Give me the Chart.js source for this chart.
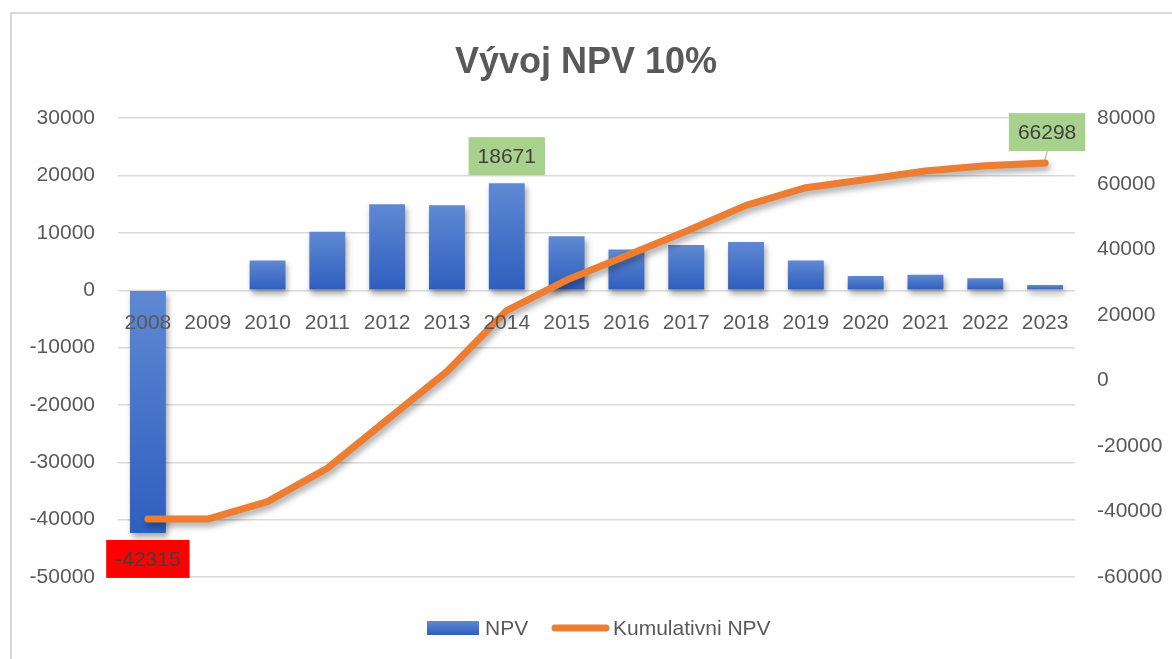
<!DOCTYPE html>
<html>
<head>
<meta charset="utf-8">
<script src="https://cdn.jsdelivr.net/npm/chart.js@4.4.1/dist/chart.umd.min.js"></script>
<style>
  html, body { margin: 0; padding: 0; background: #fff; }
  canvas { display: block; }
</style>
</head>
<body>
<canvas id="npvChart" width="1172" height="659"></canvas>
<script>
const years = ['2008', '2009', '2010', '2011', '2012', '2013', '2014', '2015',
               '2016', '2017', '2018', '2019', '2020', '2021', '2022', '2023'];
const npv = [-42315, 0, 5200, 10200, 15000, 14800, 18671, 9400,
             7100, 7900, 8400, 5200, 2500, 2700, 2100, 900];
const cumulativeNpv = [-42315, -42315, -37000, -26800, -12000, 2700, 21300, 30600,
                       38000, 45500, 53400, 58800, 61300, 63900, 65500, 66298];
const leftTicks = { min: -50000, max: 30000, step: 10000 };
const rightTicks = { min: -60000, max: 80000, step: 20000 };

const FONT = "'Liberation Sans', Arial, sans-serif";
const TEXT = '#595959';
const GRID = '#d9d9d9';

// excel-like gradient per bar, top light to bottom dark
function barGradient(ctx) {
  const chart = ctx.chart;
  if (!chart.chartArea || ctx.type !== 'data' || !ctx.parsed) return '#4472c4';
  const y = chart.scales.y;
  const v = ctx.parsed.y;
  const top = y.getPixelForValue(Math.max(v, 0));
  const bot = y.getPixelForValue(Math.min(v, 0));
  if (bot - top < 1) return '#4472c4';
  const g = chart.ctx.createLinearGradient(0, top, 0, bot);
  g.addColorStop(0, '#5f89d3');
  g.addColorStop(1, '#2e5ebf');
  return g;
}

const plainNumber = (v) => String(v);

const frame = {
  id: 'frame',
  beforeDraw(chart) {
    const c = chart.ctx;
    c.save();
    c.fillStyle = '#fff';
    c.fillRect(0, 0, chart.width, chart.height);
    c.strokeStyle = GRID;
    c.lineWidth = 2;
    c.beginPath();
    c.moveTo(11, chart.height);
    c.lineTo(11, 13);
    c.lineTo(chart.width, 13);
    c.stroke();
    c.restore();
  }
};

const shadows = {
  id: 'shadows',
  beforeDatasetDraw(chart) {
    const c = chart.ctx;
    c.save();
    c.shadowColor = 'rgba(0,0,0,0.35)';
    c.shadowBlur = 6;
    c.shadowOffsetX = 2;
    c.shadowOffsetY = 4;
  },
  afterDatasetDraw(chart) {
    chart.ctx.restore();
  }
};

function labelBox(c, text, cx, top, bg) {
  c.font = '21px ' + FONT;
  const w = c.measureText(text).width + 18;
  const h = 38;
  c.fillStyle = bg;
  c.fillRect(cx - w / 2, top, w, h);
  c.fillStyle = '#404040';
  c.textAlign = 'center';
  c.textBaseline = 'middle';
  c.fillText(text, cx, top + h / 2 + 1);
}

const valueLabels = {
  id: 'valueLabels',
  afterDraw(chart) {
    const c = chart.ctx;
    const bars = chart.getDatasetMeta(1).data;
    const line = chart.getDatasetMeta(0).data;
    const iMin = npv.indexOf(Math.min(...npv));
    const iMax = npv.indexOf(Math.max(...npv));
    const iLast = cumulativeNpv.length - 1;
    c.save();
    labelBox(c, String(npv[iMin]), bars[iMin].x, bars[iMin].y + 7, '#ff0000');
    labelBox(c, String(npv[iMax]), bars[iMax].x, bars[iMax].y - 8 - 38, '#a9d18e');
    const p = line[iLast];
    const boxBottom = p.y - 12;
    c.strokeStyle = '#a6a6a6';
    c.lineWidth = 1;
    c.beginPath();
    c.moveTo(p.x + 2, boxBottom);
    c.lineTo(p.x, p.y - 3);
    c.stroke();
    labelBox(c, String(cumulativeNpv[iLast]), p.x + 2, boxBottom - 38, '#a9d18e');
    c.restore();
  }
};

const legendDraw = {
  id: 'legendDraw',
  afterDraw(chart) {
    const c = chart.ctx;
    const ds = chart.data.datasets;
    const y = 628;
    c.save();
    c.font = '21px ' + FONT;
    c.textBaseline = 'middle';
    c.textAlign = 'left';
    const g = c.createLinearGradient(0, y - 7, 0, y + 7);
    g.addColorStop(0, '#5f89d3');
    g.addColorStop(1, '#2e5ebf');
    c.fillStyle = g;
    c.fillRect(427, y - 7, 52, 14);
    c.fillStyle = TEXT;
    c.fillText(ds[1].label, 485, y + 1);
    c.strokeStyle = ds[0].borderColor;
    c.lineWidth = 7;
    c.lineCap = 'round';
    c.beginPath();
    c.moveTo(555, y);
    c.lineTo(606, y);
    c.stroke();
    c.fillStyle = TEXT;
    c.fillText(ds[0].label, 613, y + 1);
    c.restore();
  }
};

new Chart(document.getElementById('npvChart'), {
  data: {
    labels: years,
    datasets: [
      {
        type: 'line',
        label: 'Kumulativni NPV',
        data: cumulativeNpv,
        yAxisID: 'y1',
        borderColor: '#ed7d31',
        borderWidth: 7,
        borderCapStyle: 'round',
        borderJoinStyle: 'round',
        pointRadius: 0,
        tension: 0,
        order: 1
      },
      {
        type: 'bar',
        label: 'NPV',
        data: npv,
        yAxisID: 'y',
        backgroundColor: barGradient,
        barPercentage: 1,
        categoryPercentage: 0.6,
        order: 2
      }
    ]
  },
  options: {
    responsive: false,
    animation: false,
    layout: { padding: { top: 0, left: 0, right: 0, bottom: 82 } },
    plugins: {
      legend: { display: false },
      tooltip: { enabled: false },
      title: {
        display: true,
        text: 'Vývoj NPV 10%',
        color: TEXT,
        font: { family: FONT, size: 36, weight: 'bold' },
        padding: { top: 41, bottom: 34 }
      }
    },
    scales: {
      x: {
        position: { y: 0 },
        z: 1,
        grid: { display: false, drawTicks: false },
        border: { display: false },
        ticks: { z: 1, color: TEXT, font: { family: FONT, size: 21 }, padding: 20, maxRotation: 0 }
      },
      y: {
        position: 'left',
        min: leftTicks.min,
        max: leftTicks.max,
        grid: { color: GRID, lineWidth: 1.5, drawTicks: false },
        border: { display: false },
        ticks: { stepSize: leftTicks.step, color: TEXT, font: { family: FONT, size: 21 }, padding: 23, callback: plainNumber },
        afterFit(scale) { scale.width = 118; }
      },
      y1: {
        position: 'right',
        min: rightTicks.min,
        max: rightTicks.max,
        grid: { display: false, drawTicks: false },
        border: { display: false },
        ticks: { stepSize: rightTicks.step, color: TEXT, font: { family: FONT, size: 21 }, padding: 22, callback: plainNumber },
        afterFit(scale) { scale.width = 97; }
      }
    }
  },
  plugins: [frame, shadows, valueLabels, legendDraw]
});
</script>
</body>
</html>
